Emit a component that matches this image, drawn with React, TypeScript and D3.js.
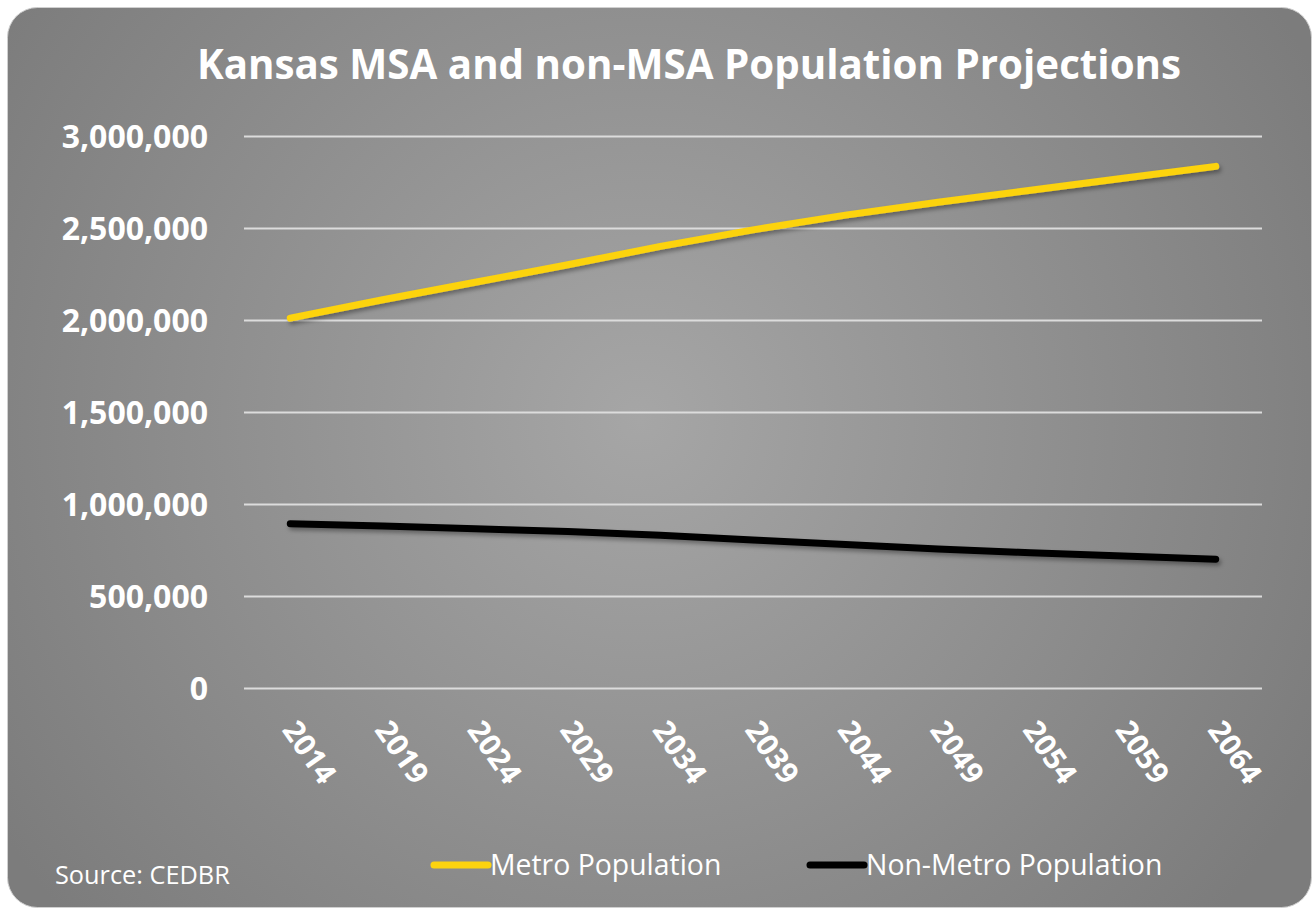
import { useEffect, useRef } from "react";
import * as d3 from "d3";

const years = ["2014", "2019", "2024", "2029", "2034", "2039", "2044", "2049", "2054", "2059", "2064"];
const metroPopulation = [2010000, 2110000, 2205000, 2300000, 2400000, 2490000, 2570000, 2640000, 2705000, 2770000, 2835000];
const nonMetroPopulation = [893000, 880000, 865000, 850000, 830000, 805000, 780000, 755000, 735000, 718000, 700000];
const yTicks = [0, 500000, 1000000, 1500000, 2000000, 2500000, 3000000];

const seriesNames = ["Metro Population", "Non-Metro Population"];
const seriesColors = ["#FCD30F", "#000000"];

export default function App() {
  const ref = useRef<SVGSVGElement | null>(null);

  useEffect(() => {
    if (!ref.current) return;

    const width = 1315;
    const height = 909;
    const margin = { top: 136, right: 53, bottom: 221, left: 244 };
    const font = "'Open Sans', 'Liberation Sans', sans-serif";

    const svg = d3.select(ref.current).attr("width", width).attr("height", height);
    svg.selectAll("*").remove();

    /* ---------------- BACKGROUND ---------------- */

    const defs = svg.append("defs");
    const grad = defs
      .append("radialGradient")
      .attr("id", "bg")
      .attr("gradientUnits", "userSpaceOnUse")
      .attr("cx", 640)
      .attr("cy", 420)
      .attr("r", 760);
    grad.append("stop").attr("offset", "0%").attr("stop-color", "#a6a6a6");
    grad.append("stop").attr("offset", "100%").attr("stop-color", "#7c7c7c");

    const shadow = defs.append("filter").attr("id", "shadow").attr("x", "-10%").attr("y", "-50%").attr("width", "120%").attr("height", "200%");
    shadow
      .append("feDropShadow")
      .attr("dx", 2)
      .attr("dy", 3)
      .attr("stdDeviation", 2)
      .attr("flood-color", "#000")
      .attr("flood-opacity", 0.35);

    svg
      .append("rect")
      .attr("x", 7.5)
      .attr("y", 7.5)
      .attr("width", 1304)
      .attr("height", 900)
      .attr("rx", 30)
      .attr("fill", "url(#bg)")
      .attr("stroke", "#d0d0d0")
      .attr("stroke-width", 1);

    /* ---------------- SCALES ---------------- */

    const x = d3
      .scaleBand()
      .domain(years)
      .range([margin.left, width - margin.right])
      .padding(0);

    const y = d3
      .scaleLinear()
      .domain([0, 3000000])
      .range([height - margin.bottom, margin.top]);

    /* ---------------- GRID + Y AXIS ---------------- */

    const yAxis = d3
      .axisLeft(y)
      .tickValues(yTicks)
      .tickFormat(d => d3.format(",")(Number(d)))
      .tickSize(-(width - margin.left - margin.right))
      .tickPadding(36);

    const gy = svg
      .append("g")
      .attr("transform", `translate(${margin.left},0)`)
      .call(yAxis);

    gy.select(".domain").remove();
    gy.selectAll(".tick line").attr("stroke", "#dcdcdc").attr("stroke-width", 2);
    gy.selectAll(".tick text")
      .attr("fill", "#ffffff")
      .attr("font-family", font)
      .attr("font-weight", "bold")
      .attr("font-size", 32)
      .attr("dy", "0.35em");

    /* ---------------- X AXIS ---------------- */

    const gx = svg
      .append("g")
      .attr("transform", `translate(0,${height - margin.bottom})`)
      .call(d3.axisBottom(x).tickSize(0));

    gx.select(".domain").remove();
    gx.selectAll(".tick text")
      .attr("fill", "#ffffff")
      .attr("font-family", font)
      .attr("font-weight", "bold")
      .attr("font-size", 30)
      .attr("text-anchor", "start")
      .attr("dy", 0)
      .attr("y", 0)
      .attr("transform", "translate(-9,42) rotate(55)");

    /* ---------------- LINES ---------------- */

    const allSeries = [metroPopulation, nonMetroPopulation];

    allSeries.forEach((values, i) => {
      const line = d3
        .line<number>()
        .x((_, j) => x(years[j])! + x.bandwidth() / 2)
        .y(d => y(d));

      svg
        .append("path")
        .datum(values)
        .attr("fill", "none")
        .attr("stroke", seriesColors[i])
        .attr("stroke-width", 7)
        .attr("stroke-linecap", "round")
        .attr("stroke-linejoin", "round")
        .attr("filter", "url(#shadow)")
        .attr("d", line);
    });

    /* ---------------- TITLE ---------------- */

    svg
      .append("text")
      .attr("x", 689)
      .attr("y", 79)
      .attr("text-anchor", "middle")
      .attr("fill", "#ffffff")
      .attr("font-family", font)
      .attr("font-weight", "bold")
      .attr("font-size", 40.3)
      .text("Kansas MSA and non-MSA Population Projections");

    /* ---------------- LEGEND ---------------- */

    const legendX = [434, 810];
    seriesNames.forEach((name, i) => {
      const g = svg.append("g").attr("transform", `translate(${legendX[i]},865)`);
      g.append("line")
        .attr("x1", 0)
        .attr("x2", 54)
        .attr("stroke", seriesColors[i])
        .attr("stroke-width", 7)
        .attr("stroke-linecap", "round");
      g.append("text")
        .attr("x", 56)
        .attr("y", 10)
        .attr("fill", "#ffffff")
        .attr("font-family", font)
        .attr("font-size", 28.4)
        .text(name);
    });

    svg
      .append("text")
      .attr("x", 55)
      .attr("y", 884)
      .attr("fill", "#ffffff")
      .attr("font-family", font)
      .attr("font-size", 25.3)
      .text("Source: CEDBR");
  }, []);

  return <svg ref={ref} style={{ position: "absolute", left: 0, top: 0, display: "block" }} />;
}
